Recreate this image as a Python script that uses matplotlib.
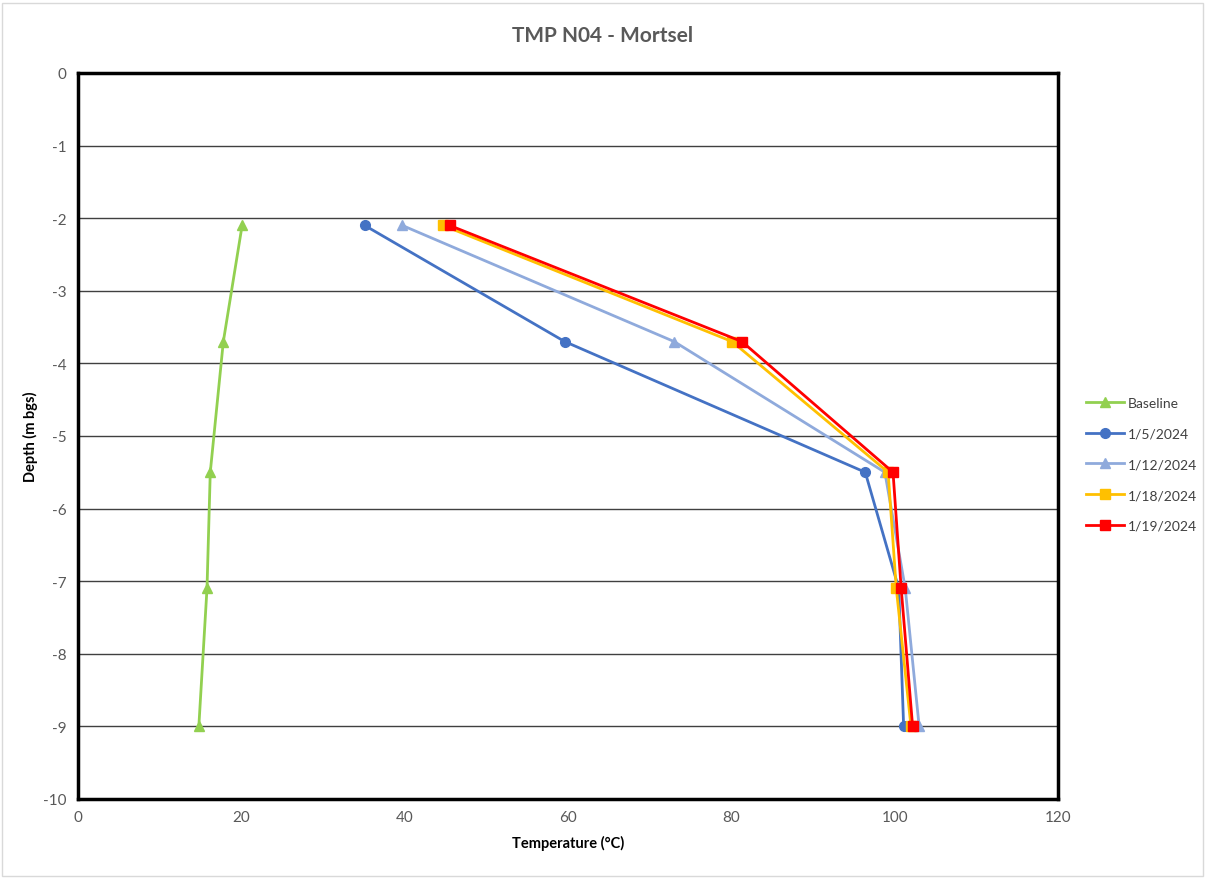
import matplotlib
matplotlib.use("Agg")
import matplotlib.pyplot as plt
from matplotlib.patches import Rectangle

plt.rcParams['font.family'] = ['Lato', 'DejaVu Sans']
plt.rcParams['axes.unicode_minus'] = False

# depths (m bgs) and temperature profiles
depth = [-2.1, -3.7, -5.5, -7.1, -9.0]
baseline = [20.1, 17.8, 16.2, 15.8, 14.8]
t_0105 = [35.1, 59.6, 96.4, 100.5, 101.1]
t_0112 = [39.7, 73.0, 98.8, 101.3, 103.0]
t_0118 = [44.7, 80.1, 99.2, 100.2, 102.0]
t_0119 = [45.5, 81.3, 99.8, 100.8, 102.2]

series = [
    ("Baseline", baseline, '#92D050', '^'),
    ("1/5/2024", t_0105, '#4472C4', 'o'),
    ("1/12/2024", t_0112, '#8FAADC', '^'),
    ("1/18/2024", t_0118, '#FFC000', 's'),
    ("1/19/2024", t_0119, '#FF0000', 's'),
]

fig = plt.figure(figsize=(12.05, 8.79), dpi=100)
fig.patches.append(Rectangle((0.002, 0.002), 0.996, 0.994, transform=fig.transFigure,
                             fill=False, edgecolor='#D9D9D9', linewidth=1))
ax = fig.add_axes([0.0647, 0.0899, 0.8133, 0.826])

for name, vals, col, mk in series:
    ax.plot(vals, depth, color=col, marker=mk, markersize=7, linewidth=2, label=name)

ax.set_xlim(0, 120)
ax.set_ylim(-10, 0)
ax.set_xticks(range(0, 121, 20))
ax.set_yticks(range(-10, 1, 1))
ax.grid(axis='y', color='#404040', linewidth=1)
ax.set_axisbelow(True)
for s in ax.spines.values():
    s.set_linewidth(2.5)
    s.set_color('black')
ax.tick_params(length=0, labelsize=11, labelcolor='#595959', pad=8)

ax.set_xlabel('Temperature (°C)', fontsize=10.5, fontweight='bold', labelpad=8)
ax.set_ylabel('Depth (m bgs)', fontsize=10.5, fontweight='bold', labelpad=4)
fig.suptitle('TMP N04 - Mortsel', x=0.5, y=0.97, fontsize=15, fontweight='bold', color='#595959')

ax.legend(loc='center left', bbox_to_anchor=(1.016, 0.461), frameon=False, fontsize=10,
          handlelength=2.7, labelcolor='#404040', labelspacing=1.35, handletextpad=0.3)

fig.savefig('out.png', dpi=100)
